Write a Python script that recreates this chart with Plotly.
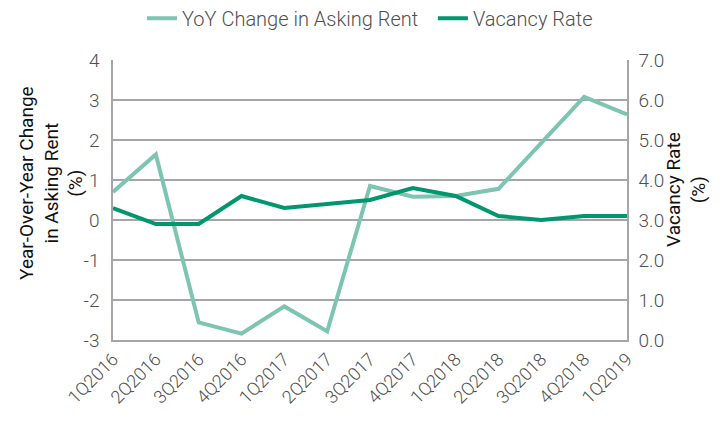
import plotly.graph_objects as go

quarters = ["1Q2016", "2Q2016", "3Q2016", "4Q2016", "1Q2017", "2Q2017", "3Q2017",
            "4Q2017", "1Q2018", "2Q2018", "3Q2018", "4Q2018", "1Q2019"]
yoy_rent = [0.7, 1.64, -2.56, -2.84, -2.16, -2.78, 0.85, 0.58, 0.6, 0.78, 1.93, 3.08, 2.64]
vacancy = [3.3, 2.9, 2.9, 3.6, 3.3, 3.4, 3.5, 3.8, 3.6, 3.1, 3.0, 3.1, 3.1]
left_ticks = [-3, -2, -1, 0, 1, 2, 3, 4]
left_tick_text = ["-3", "-2", "-1", "0", "1", "2", "3", "4"]

LIGHT = "#7DC5B0"
DARK = "#00966F"
GRID = "#A6A6A6"
FONT = "Roboto"
TICKC = "#505050"

fig = go.Figure()
fig.add_trace(go.Scatter(x=list(range(len(quarters))), y=yoy_rent, mode="lines",
                         name="YoY Change in Asking Rent  ",
                         line=dict(color=LIGHT, width=4), yaxis="y"))
fig.add_trace(go.Scatter(x=list(range(len(quarters))), y=vacancy, mode="lines",
                         name="Vacancy Rate",
                         line=dict(color=DARK, width=4), yaxis="y2"))

fig.update_layout(
    width=728, height=423,
    margin=dict(l=105, r=109, t=52, b=91, autoexpand=False),
    paper_bgcolor="white", plot_bgcolor="white",
    font=dict(family=FONT, size=17, color=TICKC, weight=300),
    showlegend=True,
    legend=dict(orientation="h", x=0.5, xanchor="center", xref="paper",
                y=0.976, yanchor="middle", yref="container",
                font=dict(size=20, color=TICKC, family=FONT, weight=300),
                itemwidth=30, tracegroupgap=0),
    xaxis=dict(range=[0, 12], tickmode="array", tickvals=list(range(len(quarters))),
               ticktext=quarters, tickangle=-45, showgrid=False, zeroline=False,
               automargin=False,
               showline=True, linecolor=GRID, linewidth=1.5, mirror=False,
               tickfont=dict(size=18, color=TICKC, family=FONT, weight=300),
               ticks=""),
    yaxis=dict(range=[-3, 4], tickmode="array", tickvals=left_ticks, ticktext=left_tick_text,
               showgrid=True, gridcolor=GRID, gridwidth=1.5, automargin=False,
               zeroline=False, showline=True, linecolor=GRID, linewidth=1.5,
               tickfont=dict(size=19, color=TICKC, family=FONT, weight=300),
               ticks="", ticklabelstandoff=8),
    yaxis2=dict(range=[0, 7], dtick=1, tickformat=".1f", overlaying="y", side="right",
                showgrid=False, zeroline=False, showline=True, linecolor=GRID, linewidth=1.5,
                automargin=False,
                tickfont=dict(size=19, color=TICKC, family=FONT, weight=300),
                ticks="", ticklabelstandoff=6),
    annotations=[
        dict(text="Year-Over-Year Change<br>in Asking Rent<br>(%)", xref="paper", yref="paper",
             x=-0.1206, y=0.561, xanchor="center", yanchor="middle", textangle=-90,
             showarrow=False, font=dict(size=19, color="#111111", family=FONT, weight=400)),
        dict(text="Vacancy Rate<br>(%)", xref="paper", yref="paper",
             x=1.115, y=0.536, xanchor="center", yanchor="middle", textangle=-90,
             showarrow=False, font=dict(size=19, color="#111111", family=FONT, weight=400)),
    ],
)

fig.write_html("out.html")
